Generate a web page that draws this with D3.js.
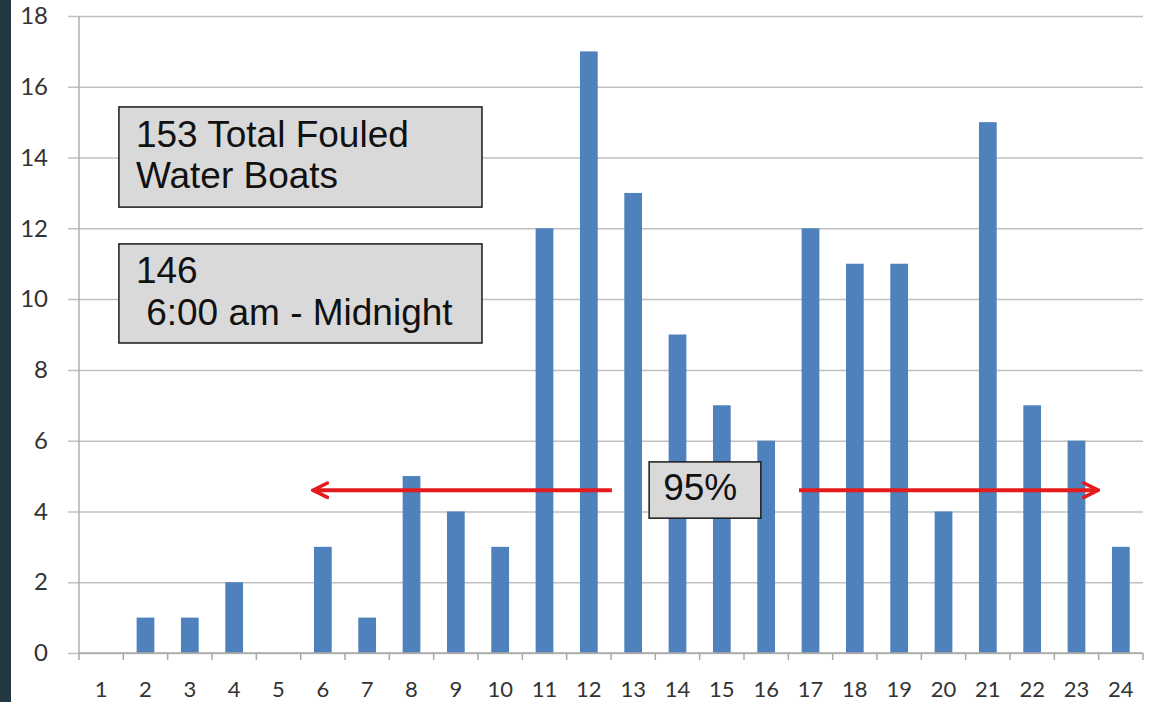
<!DOCTYPE html>
<html>
<head>
<meta charset="utf-8">
<script src="https://cdn.jsdelivr.net/npm/d3@7"></script>
<style>
  html, body { margin: 0; padding: 0; background: #fff; }
  body { width: 1155px; height: 702px; overflow: hidden; }
</style>
</head>
<body>
<div class="chart"></div>
<script>
// hourly counts
const hours = d3.range(1, 25);
const counts = [0, 1, 1, 2, 0, 3, 1, 5, 4, 3, 12, 17, 13, 9, 7, 6, 12, 11, 11, 4, 15, 7, 6, 3];
const yTicks = [0, 2, 4, 6, 8, 10, 12, 14, 16, 18];

// annotation values (hour units, count units)
const noteLines1 = ["153 Total Fouled", "Water Boats"];
const noteLines2 = ["146", " 6:00 am - Midnight"];
const pctLabel = "95%";
const arrowY = 4.6;
const arrowLeft = [12.52, 5.78];
const arrowRight = [16.74, 23.49];

const W = 1155, H = 702;
const margin = {top: 16, left: 79, right: 12, bottom: 49};
const width = W - margin.left - margin.right;
const height = H - margin.top - margin.bottom;

const svg = d3.select('.chart').append('svg')
    .attr('width', W)
    .attr('height', H);

// dark strip on the left edge
svg.append('rect')
    .attr('x', 0).attr('y', 0)
    .attr('width', 11).attr('height', H)
    .attr('fill', '#243844');

const g = svg.append('g')
    .attr('transform', `translate(${margin.left},${margin.top})`);

const x = d3.scaleBand()
    .domain(hours)
    .range([0, width])
    .paddingInner(0.6)
    .paddingOuter(0.3);

// continuous hour scale for annotations (hour h sits at band center)
const xh = d3.scaleLinear()
    .domain([0.5, 24.5])
    .range([0, width]);

const y = d3.scaleLinear()
    .domain([0, 18])
    .range([height, 0]);

// gridlines + y labels
const yAxis = d3.axisLeft(y)
    .tickValues(yTicks)
    .tickSize(-width - 11)
    .tickPadding(20);

g.append('g')
    .attr('transform', 'translate(-11,0)')
    .call(yAxis)
    .call(s => s.select('.domain').remove())
    .call(s => s.selectAll('.tick line').attr('stroke', '#c0c0c0').attr('stroke-width', 1.5))
    .call(s => s.selectAll('.tick text')
        .attr('font-family', 'Lato, sans-serif')
        .attr('font-size', 24)
        .attr('fill', '#333'));

// y axis line
g.append('line')
    .attr('x1', 0).attr('x2', 0)
    .attr('y1', 0).attr('y2', height)
    .attr('stroke', '#b0b0b0')
    .attr('stroke-width', 1.5);

// bars
g.selectAll('rect.bar')
    .data(counts)
    .join('rect')
    .attr('class', 'bar')
    .attr('x', (d, i) => x(hours[i]))
    .attr('y', d => y(d))
    .attr('width', x.bandwidth())
    .attr('height', d => height - y(d))
    .attr('fill', '#4f81bd');

// x axis: ticks at band boundaries
const xAxisG = g.append('g')
    .attr('transform', `translate(0,${height})`);

xAxisG.append('line')
    .attr('x1', 0).attr('x2', width)
    .attr('stroke', '#a8a8a8').attr('stroke-width', 1.5);

xAxisG.selectAll('line.tk')
    .data(d3.range(0, 25))
    .join('line')
    .attr('class', 'tk')
    .attr('x1', d => xh(d + 0.5)).attr('x2', d => xh(d + 0.5))
    .attr('y1', 0).attr('y2', 7)
    .attr('stroke', '#a8a8a8').attr('stroke-width', 1.5);

xAxisG.selectAll('text')
    .data(hours)
    .join('text')
    .attr('x', d => xh(d))
    .attr('y', 44)
    .attr('text-anchor', 'middle')
    .attr('font-family', 'Lato, sans-serif')
    .attr('font-size', 22)
    .attr('fill', '#333')
    .text(d => d);

// red arrows
svg.append('defs').append('marker')
    .attr('id', 'head')
    .attr('viewBox', '0 0 10 10')
    .attr('refX', 9).attr('refY', 5)
    .attr('markerWidth', 4.5).attr('markerHeight', 4.5)
    .attr('orient', 'auto')
    .append('path')
    .attr('d', 'M1,1 L9,5 L1,9')
    .attr('fill', 'none')
    .attr('stroke', '#e41a1c')
    .attr('stroke-width', 2)
    .attr('stroke-linecap', 'round');

[arrowLeft, arrowRight].forEach(a => {
    g.append('line')
        .attr('x1', xh(a[0])).attr('x2', xh(a[1]))
        .attr('y1', y(arrowY)).attr('y2', y(arrowY))
        .attr('stroke', '#e41a1c')
        .attr('stroke-width', 4)
        .attr('marker-end', 'url(#head)');
});

// text boxes
function noteBox(x0, x1, y0, y1, lines, dx, dy, gap) {
    const bx = g.append('g');
    bx.append('rect')
        .attr('x', xh(x0)).attr('y', y(y0))
        .attr('width', xh(x1) - xh(x0))
        .attr('height', y(y1) - y(y0))
        .attr('fill', '#d9d9d9')
        .attr('stroke', '#1a1a1a')
        .attr('stroke-width', 1.5);
    bx.selectAll('text')
        .data(lines)
        .join('text')
        .attr('x', xh(x0) + dx)
        .attr('y', (d, i) => y(y0) + dy + i * gap)
        .attr('font-family', '"Liberation Sans", Arial, sans-serif')
        .attr('font-size', 37)
        .attr('fill', '#111')
        .attr('xml:space', 'preserve')
        .style('white-space', 'pre')
        .text(d => d);
    return bx;
}

noteBox(1.4, 9.59, 15.43, 12.6, noteLines1, 17, 40, 41.5);
noteBox(1.4, 9.59, 11.56, 8.76, noteLines2, 17, 39, 42);
noteBox(13.36, 15.88, 5.4, 3.81, [pctLabel], 14, 38, 0);
</script>
</body>
</html>
